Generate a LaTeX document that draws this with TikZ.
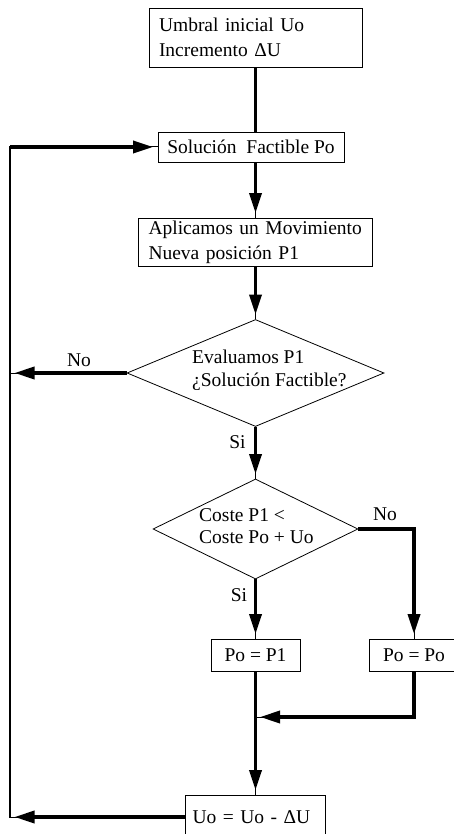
\documentclass[tikz,border=0pt]{standalone}
\usepackage{fontspec}
\setmainfont{Liberation Serif}
\usetikzlibrary{shapes.geometric,arrows.meta}
\begin{document}
\begin{tikzpicture}[x=1pt,y=-1pt,
  every node/.style={font=\fontsize{19.5}{25}\selectfont},
  box/.style={draw, line width=0.8pt, inner ysep=0pt},
  dia/.style={draw, diamond, line width=0.8pt, inner sep=0pt},
  txt/.style={inner sep=0pt, align=left, anchor=north west},
  lbl/.style={inner sep=0pt, anchor=base},
  thickline/.style={line width=3.5pt},
  conn/.style={line width=1pt, preaction={draw, line width=3.5pt, shorten >=4.5pt, -{Triangle[length=20pt,width=12pt]}}},
  loopline/.style={line width=2.5pt, line cap=rect}
]
\useasboundingbox (0,0) rectangle (454,834);
\clip (0,0) rectangle (454,834);

\node[box, minimum width=213pt, minimum height=59pt, text width=193pt, inner xsep=10pt, align=left] (init) at (255.5,37.5) {Umbral inicial Uo\\Incremento ΔU};
\node[box, minimum width=186pt, minimum height=30pt] (sol) at (251,147) {Solución~ Factible Po};
\node[box, minimum width=234pt, minimum height=48pt, text width=214pt, inner xsep=10pt, align=left] (apl) at (255.5,242) {Aplicamos un Movimiento\\Nueva posición P1};
\node[dia, minimum width=257pt, minimum height=107pt] (d1) at (255.5,373) {};
\node[txt, font=\fontsize{19.5}{23}\selectfont] (d1t) at (192,349.5) {Evaluamos P1\\¿Solución Factible?};
\node[dia, minimum width=205pt, minimum height=100pt] (d2) at (255.5,529) {};
\node[txt, font=\fontsize{19.5}{22}\selectfont] (d2t) at (199,508.5) {Coste P1 <\\Coste Po + Uo};
\node[box, minimum width=89pt, minimum height=32pt] (p1) at (255.5,655) {Po = P1};
\node[box, minimum width=90pt, minimum height=32pt] (pp) at (414,655) {Po = Po};
\node[box, minimum width=140pt, minimum height=44pt, text width=126pt, inner xsep=7pt, align=left] (uo) at (255.5,817) {Uo = Uo - ΔU};

\node[lbl] (no1) at (79,366) {No};
\node[lbl] (si1) at (237.5,448) {Si};
\node[lbl] (no2) at (385,520) {No};
\node[lbl] (si2) at (239,601.5) {Si};

\coordinate (lx) at (10,0);
\coordinate (m) at (255.5,717);

\draw[thickline] (init.south) -- (init.south |- sol.north);
\draw[conn] (init.south |- sol.south) -- (apl.north);
\draw[conn] (apl.south) -- (d1.north);
\draw[conn] (d1.south) -- (d2.north);
\draw[conn] (d1.west) -- (d1.west -| lx);
\draw[conn] (d2.east) -- (d2.east -| pp.north) -- (pp.north);
\draw[conn] (d2.south) -- (p1.north);
\draw[conn] (p1.south) -- (uo.north);
\draw[conn] (pp.south) -- (pp.south |- m) -- (m);
\draw[conn] (uo.west) -- (uo.west -| lx);
\draw[loopline] (uo.west -| lx) -- (sol.west -| lx);
\draw[conn] (sol.west -| lx) -- (sol.west);
\end{tikzpicture}
\end{document}
